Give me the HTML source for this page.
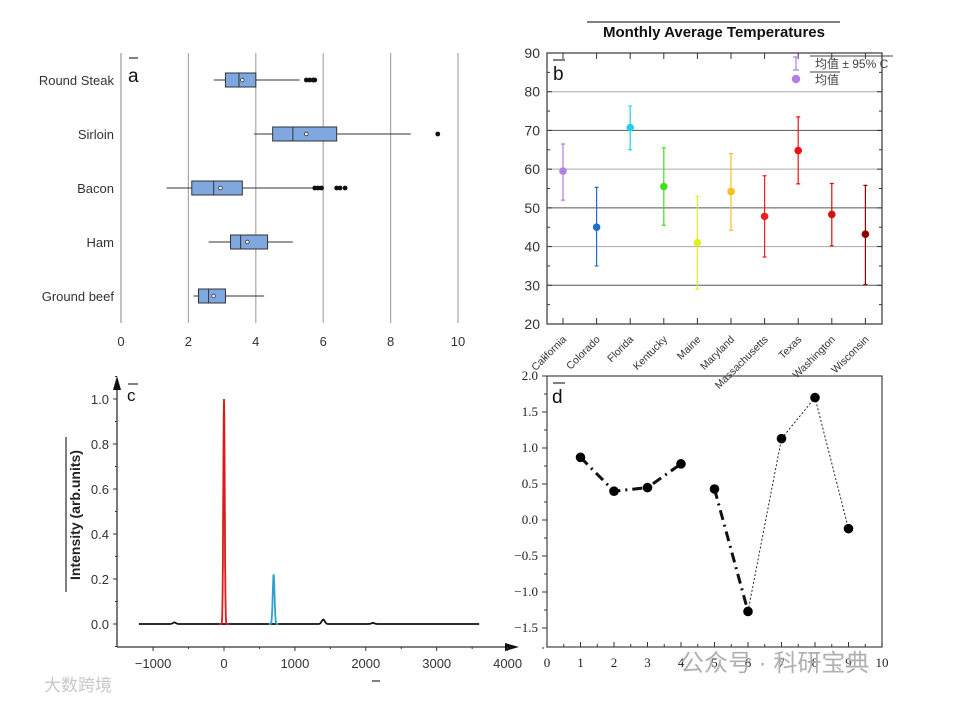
<!DOCTYPE html>
<html><head><meta charset="utf-8"><style>
html,body{margin:0;padding:0;background:#fff;}
svg{display:block;}
text{font-family:"Liberation Sans","Noto Sans CJK SC",sans-serif;}
.serif{font-family:"Liberation Serif","Noto Serif CJK SC",serif;}
</style></head><body>
<svg id="fig" width="954" height="702" viewBox="0 0 954 702" xmlns="http://www.w3.org/2000/svg">
<g id="pa"></g>
<g id="pb"></g>
<g id="pc"></g>
<g id="pd"></g>
<text x="680" y="671" font-size="24" fill="#b0b0b0">公众号 · 科研宝典</text>
<text x="44" y="691" font-size="17" fill="#c8c8c8">大数跨境</text>
</svg>
<script>
const NS="http://www.w3.org/2000/svg";
function mk(p,t,a,txt){const e=document.createElementNS(NS,t);for(const k in a)e.setAttribute(k,a[k]);if(txt!==undefined)e.textContent=txt;p.appendChild(e);return e;}

// ---------- Panel a data ----------
const aCats=["Round Steak","Sirloin","Bacon","Ham","Ground beef"];
const aWhiskLo=[2.75,3.95,1.35,2.6,2.15];
const aQ1=[3.1,4.5,2.1,3.25,2.3];
const aMed=[3.5,5.1,2.75,3.55,2.6];
const aQ3=[4.0,6.4,3.6,4.35,3.1];
const aWhiskHi=[5.3,8.6,5.75,5.1,4.25];
const aMean=[3.6,5.5,2.95,3.75,2.75];
const aOutliers=[[5.5,5.6,5.7,5.75],[9.4],[5.75,5.85,5.95,6.4,6.5,6.65],[],[]];
const aTicks=[0,2,4,6,8,10];
(function(){
const g=document.getElementById('pa');
const X=v=>121+v*33.7, Y=i=>80+i*54;
aTicks.forEach(t=>{
 if(t>0){const l=mk(g,'line',{x1:X(t),x2:X(t),y1:53,y2:323,stroke:'#a8a8a8','stroke-width':1.2});
 }
 const tx=mk(g,'text',{x:X(t),y:346,'font-size':13,'text-anchor':'middle',fill:'#333'},String(t));
 
});
const ax=mk(g,'line',{x1:121,x2:121,y1:53,y2:323,stroke:'#999','stroke-width':1.2});

aCats.forEach((c,i)=>{
 const y=Y(i);
 const lb=mk(g,'text',{x:114,y:y+5,'font-size':13,'text-anchor':'end',fill:'#333'},c);
 
 const w=mk(g,'line',{x1:X(aWhiskLo[i]),x2:X(aWhiskHi[i]),y1:y,y2:y,stroke:'#333','stroke-width':1});
 
 const b=mk(g,'rect',{x:X(aQ1[i]),y:y-7,width:X(aQ3[i])-X(aQ1[i]),height:14,fill:'#7fa7e0',stroke:'#333','stroke-width':1});
 
 const m=mk(g,'line',{x1:X(aMed[i]),x2:X(aMed[i]),y1:y-7,y2:y+7,stroke:'#333','stroke-width':1});
 
 const mn=mk(g,'circle',{cx:X(aMean[i]),cy:y,r:1.8,fill:'#fff',stroke:'#333','stroke-width':0.8});
 
 aOutliers[i].forEach(o=>{const d=mk(g,'circle',{cx:X(o),cy:y,r:2.4,fill:'#111'});
  });
});
mk(g,'line',{x1:129,x2:138,y1:58,y2:58,stroke:'#000','stroke-width':1});
const pl=mk(g,'text',{x:128,y:82,'font-size':19,fill:'#111'},'a');

})();

// ---------- Panel b data ----------
const bCats=["California","Colorado","Florida","Kentucky","Maine","Maryland","Massachusetts","Texas","Washington","Wisconsin"];
const bMean=[59.5,45,70.7,55.5,41,54.2,47.8,64.8,48.3,43.2];
const bLo=[52,35,65,45.5,29,44.2,37.3,56.2,40.2,30.2];
const bHi=[66.5,55.3,76.3,65.5,53,64,58.3,73.5,56.3,55.8];
const bColors=["#b07fe0","#2070c8","#20d0f0","#40e020","#e0f020","#f8c020","#f02020","#f01010","#d81010","#900000"];
const bTicks=[20,30,40,50,60,70,80,90];
(function(){
const g=document.getElementById('pb');
const L=547,R=882,T=53,B=324;
const Y=v=>B-(v-20)/70*(B-T), X=i=>563+i*33.6;
bTicks.forEach(t=>{
 if(t>20&&t<90){const l=mk(g,'line',{x1:L,x2:R,y1:Y(t),y2:Y(t),stroke:t%20==0?'#aaa':'#555','stroke-width':1});
 }
 mk(g,'line',{x1:L,x2:L+5,y1:Y(t),y2:Y(t),stroke:'#333'});
 mk(g,'line',{x1:R,x2:R-5,y1:Y(t),y2:Y(t),stroke:'#333'});
 if(t<90){mk(g,'line',{x1:L,x2:L+3,y1:Y(t+5),y2:Y(t+5),stroke:'#333'});mk(g,'line',{x1:R,x2:R-3,y1:Y(t+5),y2:Y(t+5),stroke:'#333'});}
 const tx=mk(g,'text',{x:540,y:Y(t)+5,'font-size':14,'text-anchor':'end',fill:'#333'},String(t));
 
});
const fr=mk(g,'rect',{x:L,y:T,width:R-L,height:B-T,fill:'none',stroke:'#444','stroke-width':1.3});

bCats.forEach((c,i)=>{
 const x=X(i);
 mk(g,'line',{x1:x,x2:x,y1:B,y2:B-6,stroke:'#333'});mk(g,'line',{x1:x,x2:x,y1:T,y2:T+6,stroke:'#333'});
 const lb=mk(g,'text',{x:x+4,y:B+16,'font-size':10.5,'text-anchor':'end',fill:'#333',transform:`rotate(-45 ${x+4} ${B+16})`},c);
 
 const e=mk(g,'path',{d:`M${x} ${Y(bLo[i])}V${Y(bHi[i])}M${x-2} ${Y(bLo[i])}h4M${x-2} ${Y(bHi[i])}h4`,stroke:bColors[i],'stroke-width':1.2,fill:'none'});
 
 const p=mk(g,'circle',{cx:x,cy:Y(bMean[i]),r:3.8,fill:bColors[i]});
 
});
const t=mk(g,'text',{x:714,y:37,'font-size':15,'font-weight':'bold','text-anchor':'middle',fill:'#111'},'Monthly Average Temperatures');

mk(g,'line',{x1:587,x2:840,y1:22,y2:22,stroke:'#000'});
mk(g,'line',{x1:553,x2:565,y1:60,y2:60,stroke:'#000'});
const pl=mk(g,'text',{x:553,y:80,'font-size':19,fill:'#111'},'b');

const lg=mk(g,'g',{});
mk(lg,'path',{d:'M796 57V70M793 57h6M793 70h6',stroke:'#b07fe0','stroke-width':1.2,fill:'none'});
mk(lg,'line',{x1:810,x2:893,y1:56,y2:56,stroke:'#444'});
mk(lg,'line',{x1:810,x2:840,y1:72,y2:72,stroke:'#444'});
mk(lg,'text',{x:815,y:68,'font-size':12,fill:'#444'},'均值 ± 95% C');
mk(lg,'circle',{cx:796,cy:79,r:4.2,fill:'#b07fe0'});
mk(lg,'text',{x:815,y:84,'font-size':12,fill:'#444'},'均值');
})();

// ---------- Panel c data ----------
const cPeakPos=[-700,0,700,1400,2100];
const cPeakHeight=[0.007,1.0,0.22,0.02,0.005];
const cPeakColor=["#111","#e01818","#30a0d0","#111","#111"];
const cXTicks=[-1000,0,1000,2000,3000,4000];
const cYTicks=[0,0.2,0.4,0.6,0.8,1.0];
(function(){
const g=document.getElementById('pc');
const X=v=>224+v*0.0709, Y=v=>624-v*225;
const ax=mk(g,'path',{d:'M117 647H505M117 647V385',stroke:'#333','stroke-width':1.3,fill:'none'});

mk(g,'path',{d:'M505 643L519 647L505 651Z',fill:'#111'});
mk(g,'path',{d:'M113 390L117 376L121 390Z',fill:'#111'});
cXTicks.forEach(t=>{
 mk(g,'line',{x1:X(t),x2:X(t),y1:647,y2:651,stroke:'#333'});
 mk(g,'line',{x1:X(t+500),x2:X(t+500),y1:647,y2:649,stroke:'#333'});
 const tx=mk(g,'text',{x:X(t),y:668,'font-size':13,'text-anchor':'middle',fill:'#333'},t<0?'−'+(-t):String(t));
 
});
cYTicks.forEach(t=>{
 mk(g,'line',{x1:113,x2:117,y1:Y(t),y2:Y(t),stroke:'#333'});
 mk(g,'line',{x1:115,x2:117,y1:Y(t+0.1),y2:Y(t+0.1),stroke:'#333'});
 const tx=mk(g,'text',{x:109,y:Y(t)+5,'font-size':13,'text-anchor':'end',fill:'#333'},t.toFixed(1));
 
});
mk(g,'line',{x1:115,x2:117,y1:Y(-0.1),y2:Y(-0.1),stroke:'#333'});
const yl=mk(g,'text',{x:80,y:515,'font-size':14,'font-weight':'bold','text-anchor':'middle',fill:'#222',transform:'rotate(-90 80 515)'},'Intensity (arb.units)');

mk(g,'line',{x1:66,x2:66,y1:437,y2:592,stroke:'#000'});
let d='';for(let v=-1200;v<=3600;v+=10){let s=0;cPeakPos.forEach((p,k)=>{if(k!==1&&k!==2)s+=cPeakHeight[k]*Math.exp(-Math.pow((v-p)/30,2));});d+=(d?'L':'M')+X(v).toFixed(1)+' '+Y(s).toFixed(1);}
const bl=mk(g,'path',{d:d,stroke:'#111','stroke-width':1.8,fill:'none'});

[1,2].forEach(k=>{let dd='';for(let v=cPeakPos[k]-70;v<=cPeakPos[k]+70;v+=2){const s=cPeakHeight[k]*Math.exp(-Math.pow((v-cPeakPos[k])/(k==1?14:18),2));dd+=(dd?'L':'M')+X(v).toFixed(1)+' '+Y(s).toFixed(1);}
 const pk=mk(g,'path',{d:dd,stroke:cPeakColor[k],'stroke-width':1.8,fill:'none'});
 });
mk(g,'line',{x1:128,x2:138,y1:384,y2:384,stroke:'#000'});
const pl=mk(g,'text',{x:127,y:401,'font-size':17,fill:'#111'},'c');

mk(g,'line',{x1:372,x2:380,y1:681,y2:681,stroke:'#000'});
})();

// ---------- Panel d data ----------
const dX=[1,2,3,4,5,6,7,8,9];
const dY=[0.87,0.4,0.45,0.78,0.43,-1.27,1.13,1.7,-0.12];
const dXTicks=[0,1,2,3,4,5,6,7,8,9,10];
const dYTicks=[-1.5,-1.0,-0.5,0.0,0.5,1.0,1.5,2.0];
(function(){
const g=document.getElementById('pd');
const L=547,R=882,T=376,B=647;
const X=v=>L+v*33.5, Y=v=>520-v*72;
const fr=mk(g,'rect',{x:L,y:T,width:R-L,height:B-T,fill:'none',stroke:'#444','stroke-width':1.2});

dXTicks.forEach(t=>{
 mk(g,'line',{x1:X(t),x2:X(t),y1:B,y2:B-5,stroke:'#333'});
 if(t<10)mk(g,'line',{x1:X(t+0.5),x2:X(t+0.5),y1:B,y2:B-3,stroke:'#333'});
 const tx=mk(g,'text',{x:X(t),y:667,'font-size':13,'text-anchor':'middle',fill:'#222','class':'serif'},String(t));
 
});
dYTicks.forEach(t=>{
 mk(g,'line',{x1:L,x2:L-5,y1:Y(t),y2:Y(t),stroke:'#333'});
 mk(g,'line',{x1:L,x2:L-3,y1:Y(t+0.25),y2:Y(t+0.25),stroke:'#333'});
 const tx=mk(g,'text',{x:538,y:Y(t)+4,'font-size':13,'text-anchor':'end',fill:'#222','class':'serif'},(t<0?'−':'')+Math.abs(t).toFixed(1));
 
});
const segs=[[0,3,'10 5 2 5',3],[4,5,'10 5 2 5',3],[5,8,'2 2',0.9]];
segs.forEach(s=>{let dd='';for(let i=s[0];i<=s[1];i++)dd+=(dd?'L':'M')+X(dX[i])+' '+Y(dY[i]);
 const p=mk(g,'path',{d:dd,stroke:'#111','stroke-width':s[3],'stroke-dasharray':s[2],fill:'none'});
 });
dX.forEach((x,i)=>{const c=mk(g,'circle',{cx:X(x),cy:Y(dY[i]),r:4.8,fill:'#000'});
 });
mk(g,'line',{x1:553,x2:565,y1:383,y2:383,stroke:'#000'});
const pl=mk(g,'text',{x:552,y:403,'font-size':19,fill:'#111'},'d');

})();
</script>
</body></html>
